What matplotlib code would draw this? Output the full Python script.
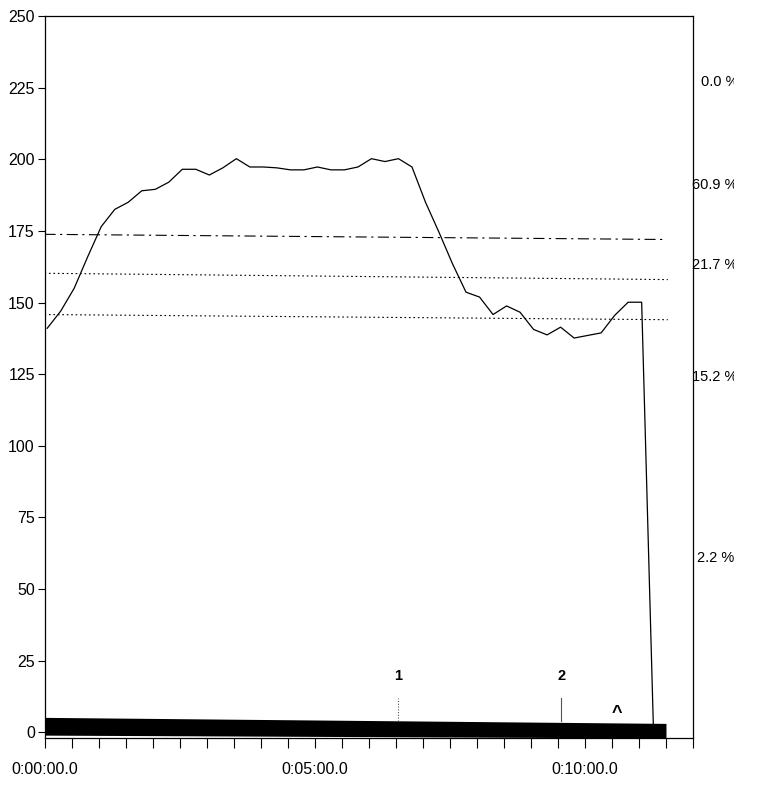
import numpy as np
import matplotlib
matplotlib.use('Agg')
import matplotlib.pyplot as plt
from matplotlib.transforms import Bbox, TransformedBbox, blended_transform_factory

plt.rcParams['font.family'] = ['Liberation Sans', 'DejaVu Sans']

# heart rate samples, one every 15 s (seconds, bpm)
hrTimes = [3 + 15 * k for k in range(45)] + [676]
hrValues = [141, 147, 155, 166, 176.5, 182.5, 185, 189, 189.5, 192,
            196.5, 196.5, 194.5, 197, 200.2, 197.3, 197.3, 197, 196.3, 196.3,
            197.3, 196.3, 196.3, 197.3, 200.2, 199.2, 200.2, 197.3, 185, 174.5,
            163.5, 153.6, 151.9, 145.8, 148.8, 146.6, 140.6, 138.7, 141.4, 137.6,
            138.5, 139.4, 145.5, 150.1, 150.1, 2]

# zone limits (start / end value of each line)
zoneLimits = [(173.8, 172.0), (160.2, 158.0), (145.8, 144.0)]
zoneEnds = [687, 692, 692]
zoneStyles = [(0, (10, 4, 2, 4)), (0, (1.5, 2.5)), (0, (1.5, 2.5))]

# zone percentages shown on the right side
zoneLabels = ['0.0 %', '60.9 %', '21.7 %', '15.2 %', '2.2 %']
zoneLabelY = [227, 191, 163, 124, 61]
zoneLabelX = [701, 692, 692, 692, 697]

# recording bar along the bottom
barTimes = [0, 690]
barTop = [5.2, 3.1]
barBottom = [-1.0, -2.0]

# laps / markers
markerTimes = [393, 574]
markerLabels = ['1', '2']
markerStyles = [(0, (1, 1.5)), '-']
caretTime = 636

xTicks = list(range(0, 721, 30))
xLabels = {0: '0:00:00.0', 300: '0:05:00.0', 600: '0:10:00.0'}
yTicks = list(range(0, 251, 25))


fig = plt.figure(figsize=(7.65, 8), dpi=100)
ax = fig.add_axes([44.5 / 765, 62 / 800, (693 - 44.5) / 765, 722 / 800])

ax.plot(hrTimes, hrValues, color='black', lw=0.9)

for (y0, y1), xEnd, ls in zip(zoneLimits, zoneEnds, zoneStyles):
    ax.plot([0, xEnd], [y0, y1], color='black', lw=0.8, linestyle=ls)

ax.fill_between(barTimes, barBottom, barTop, color='black', lw=0)

for t, lab, ls in zip(markerTimes, markerLabels, markerStyles):
    ax.plot([t, t], [4, 12], color='#555555', lw=0.8, linestyle=ls)
    ax.text(t, 19.5, lab, ha='center', va='center', fontsize=10.5, fontweight='bold')
ax.text(caretTime, 6.5, '^', ha='center', va='center', fontsize=13, fontweight='bold')

ax.set_xlim(0, 720)
ax.set_ylim(-2, 250)
ax.set_xticks(xTicks)
ax.set_xticklabels([xLabels.get(t, '') for t in xTicks])
ax.set_yticks(yTicks)
ax.tick_params(axis='x', length=7, width=0.8, pad=10, labelsize=11.5)
ax.tick_params(axis='y', length=5, width=0.8, pad=2, labelsize=11.5)
for s in ax.spines.values():
    s.set_linewidth(0.9)

# right side percentages, cut off like the original print
clip = TransformedBbox(Bbox([[0, 0], [734 / 765, 1]]), fig.transFigure)
trans = blended_transform_factory(fig.transFigure, ax.transData)
for lab, y, xp in zip(zoneLabels, zoneLabelY, zoneLabelX):
    txt = ax.text(xp / 765, y, lab, transform=trans, fontsize=10.5,
                  va='center', ha='left', clip_on=True)
    txt.set_clip_box(clip)

fig.savefig('out.png', dpi=100)
